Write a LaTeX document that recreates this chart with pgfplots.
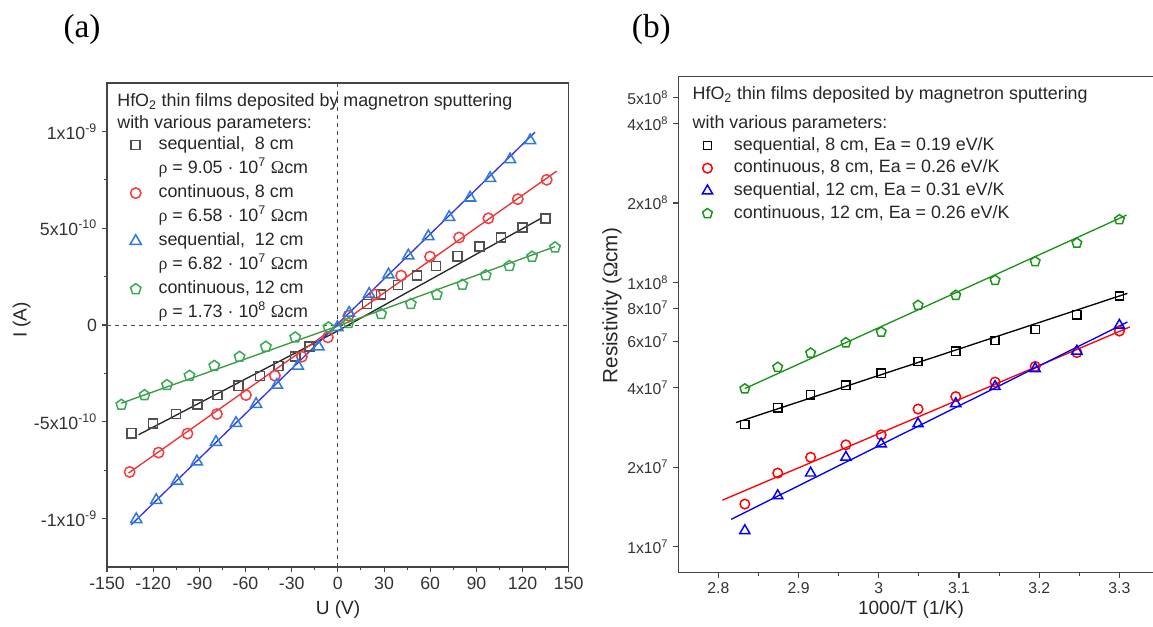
\documentclass[border=0pt]{standalone}
\usepackage{pgfplots}
\pgfplotsset{compat=1.18}
\usepackage{fontspec}
\setmainfont{Liberation Sans}
\newfontfamily\serif{Liberation Serif}
\definecolor{lgray}{HTML}{505050}
\definecolor{lred}{HTML}{F04040}
\definecolor{lblue}{HTML}{2E7BE0}
\definecolor{lgreen}{HTML}{3CAA5A}
\definecolor{linered}{HTML}{F03030}
\definecolor{lineblue}{HTML}{3333EE}
\definecolor{linegreen}{HTML}{3A9A3A}
\definecolor{rgreen}{HTML}{1A931A}
\definecolor{axisgray}{HTML}{454545}
\newcommand\tkL{\fontsize{13.3}{15}\selectfont}
\newcommand\tkR{\fontsize{11.8}{13}\selectfont}
\newcommand\legf{\fontsize{13.4}{15}\selectfont}
\newcommand\labf{\fontsize{14.3}{16}\selectfont}
\newcommand\rhotxt[2]{{\serif ρ} = #1 · 10\textsuperscript{#2} {\serif Ω}cm}
\begin{document}
\begin{tikzpicture}
\useasboundingbox (0,0) rectangle (864.75pt,470.25pt);
% ---------------- (a) ----------------
\begin{axis}[
  at={(80.25pt,45pt)}, anchor=south west, scale only axis,
  width=346.3pt, height=363pt,
  xmin=-150, xmax=150, ymin=-1.25, ymax=1.25,
  xtick={-150,-120,-90,-60,-30,0,30,60,90,120,150},
  xticklabels={-150,-120,-90,-60,-30,0,30,60,90,120,150},
  ytick={-1,-0.5,0,0.5,1},
  yticklabels={-1x10\textsuperscript{-9},-5x10\textsuperscript{-10},0,5x10\textsuperscript{-10},1x10\textsuperscript{-9}},
  minor x tick num=1, minor y tick num=1,
  xtick pos=bottom, ytick pos=left, tick align=outside,
  major tick length=4pt, minor tick length=2.5pt,
  axis line style={axisgray, line width=0.8pt},
  tick style={axisgray, line width=0.8pt},
  ticklabel style={font=\tkL, text=black!80},
  legend style={at={(0.037,0.897)}, anchor=north west, draw=none, fill=none,
    font=\legf, text=black!85, row sep=0pt, inner sep=0pt,
    nodes={text height=10.6pt, text depth=3.4pt, inner sep=2pt},
    /tikz/every odd column/.append style={column sep=11pt}},
  legend cell align=left,
]
\addplot[forget plot, dashed, black!70, line width=0.7pt] coordinates {(-150,0) (150,0)};
\addplot[forget plot, dashed, black!70, line width=0.7pt] coordinates {(0,-1.25) (0,1.25)};
% fit lines
\addplot[forget plot, black!85, line width=1pt] coordinates {(-129.5,-0.567) (0,-0.03) (132.5,0.553)};
\addplot[forget plot, linered, line width=1pt] coordinates {(-136,-0.765) (142.2,0.795)};
\addplot[forget plot, lineblue, line width=1pt] coordinates {(-134.4,-1.033) (128.1,0.996)};
\addplot[forget plot, linegreen, line width=1pt] coordinates {(-140.7,-0.404) (0,-0.005) (141.1,0.405)};
% data
\addplot[only marks, mark=square, mark size=3.4pt, lgray, line width=1.15pt] coordinates {
(-134.2,-0.559) (-120.1,-0.509) (-105.2,-0.460) (-91.2,-0.411) (-78.2,-0.361)
(-64.5,-0.314) (-50.6,-0.264) (-38.6,-0.211) (-27.7,-0.162) (-18.4,-0.112)
(18.8,0.109) (28.1,0.157) (39.0,0.207) (51.3,0.255) (63.8,0.305) (77.7,0.355)
(91.9,0.405) (106.0,0.453) (119.9,0.503) (134.8,0.551)};
\addlegendentry{sequential,~ 8 cm}
\addlegendimage{empty legend}\addlegendentry{\rhotxt{9.05}{7}}
\addplot[only marks, mark=o, mark size=3.9pt, lred, line width=1.15pt] coordinates {
(-135.3,-0.759) (-116.5,-0.659) (-97.7,-0.561) (-78.6,-0.460) (-59.7,-0.362)
(-40.9,-0.262) (-23.4,-0.164) (-6.5,-0.064) (6.9,0.048) (24.2,0.157) (41.1,0.255)
(59.9,0.353) (78.8,0.452) (97.8,0.551) (116.9,0.650) (135.7,0.750)};
\addlegendentry{continuous, 8 cm}
\addlegendimage{empty legend}\addlegendentry{\rhotxt{6.58}{7}}
\addplot[only marks, mark=triangle, mark size=4.8pt, lblue, line width=1.15pt] coordinates {
(-131.0,-1.004) (-118.0,-0.905) (-104.5,-0.806) (-91.6,-0.706) (-79.2,-0.605)
(-66.2,-0.507) (-53.1,-0.409) (-39.6,-0.310) (-26.0,-0.211) (-12.6,-0.112)
(-0.3,-0.012) (7.3,0.062) (20.3,0.160) (32.9,0.260) (45.8,0.358) (58.8,0.458)
(72.3,0.557) (85.9,0.657) (98.9,0.758) (111.9,0.855) (124.9,0.953)};
\addlegendentry{sequential,~ 12 cm}
\addlegendimage{empty legend}\addlegendentry{\rhotxt{6.82}{7}}
\addplot[only marks, mark=pentagon, mark size=4.1pt, lgreen, line width=1.15pt] coordinates {
(-140.7,-0.412) (-125.6,-0.362) (-111.0,-0.310) (-96.4,-0.262) (-80.3,-0.211)
(-63.9,-0.164) (-46.8,-0.112) (-27.7,-0.064) (-6.1,-0.012) (6.9,0.010)
(28.1,0.057) (47.4,0.109) (64.3,0.157) (80.9,0.208) (96.1,0.257) (111.4,0.305)
(126.2,0.353) (141.1,0.401)};
\addlegendentry{continuous, 12 cm}
\addlegendimage{empty legend}\addlegendentry{\rhotxt{1.73}{8}}
\end{axis}
% ---------------- (b) ----------------
\begin{axis}[
  at={(508.7pt,41.0pt)}, anchor=south west, scale only axis,
  width=357.9pt, height=371.5pt,
  xmin=2.75, xmax=3.345, ymode=log, ymin=8e6, ymax=6e8,
  xtick={2.8,2.9,3.0,3.1,3.2,3.3}, xticklabels={2.8,2.9,3,3.1,3.2,3.3},
  ytick={1e7,2e7,4e7,6e7,8e7,1e8,2e8,4e8,5e8},
  yticklabels={1x10\textsuperscript{7},2x10\textsuperscript{7},4x10\textsuperscript{7},6x10\textsuperscript{7},8x10\textsuperscript{7},1x10\textsuperscript{8},2x10\textsuperscript{8},4x10\textsuperscript{8},5x10\textsuperscript{8}},
  minor x tick num=1, minor ytick={},
  xtick pos=bottom, ytick pos=left, tick align=outside,
  major tick length=4pt, minor tick length=2.5pt,
  axis line style={axisgray, line width=0.8pt},
  tick style={axisgray, line width=0.8pt},
  ticklabel style={font=\tkR, text=black!80},
  legend style={at={(0.05,0.885)}, anchor=north west, draw=none, fill=none,
    font=\legf, text=black!85, row sep=0pt, inner sep=0pt,
    nodes={text height=10pt, text depth=3pt, inner sep=2pt},
    /tikz/every odd column/.append style={column sep=14pt}},
  legend cell align=left,
]
\addplot[forget plot, black, line width=1pt] coordinates {(2.822,2.95e7) (3.31,9.1e7)};
\addplot[forget plot, red, line width=1pt] coordinates {(2.805,1.50e7) (3.313,6.79e7)};
\addplot[forget plot, blue, line width=1pt] coordinates {(2.816,1.27e7) (3.31,7.09e7)};
\addplot[forget plot, rgreen, line width=1pt] coordinates {(2.833,3.97e7) (3.309,1.80e8)};
\addplot[only marks, mark=square, mark size=3.1pt, black, line width=1.1pt] coordinates {
(2.833,2.90e7) (2.874,3.36e7) (2.915,3.76e7) (2.959,4.09e7) (3.003,4.54e7) (3.049,5.03e7)
(3.096,5.49e7) (3.145,6.04e7) (3.195,6.64e7) (3.247,7.55e7) (3.300,8.9e7)};
\addlegendentry{sequential, 8 cm, Ea = 0.19 eV/K}
\addplot[only marks, mark=o, mark size=3.6pt, red, line width=1.1pt] coordinates {
(2.833,1.45e7) (2.874,1.90e7) (2.915,2.18e7) (2.959,2.43e7) (3.003,2.65e7) (3.049,3.32e7)
(3.096,3.70e7) (3.145,4.20e7) (3.195,4.81e7) (3.247,5.43e7) (3.300,6.55e7)};
\addlegendentry{continuous, 8 cm, Ea = 0.26 eV/K}
\addplot[only marks, mark=triangle, mark size=4.4pt, blue, line width=1.1pt] coordinates {
(2.833,1.15e7) (2.874,1.56e7) (2.915,1.90e7) (2.959,2.18e7) (3.003,2.45e7) (3.049,2.92e7)
(3.096,3.48e7) (3.145,4.04e7) (3.195,4.72e7) (3.247,5.50e7) (3.300,6.89e7)};
\addlegendentry{sequential, 12 cm, Ea = 0.31 eV/K}
\addplot[only marks, mark=pentagon, mark size=3.8pt, rgreen, line width=1.1pt] coordinates {
(2.833,3.96e7) (2.874,4.78e7) (2.915,5.41e7) (2.959,5.92e7) (3.003,6.50e7) (3.049,8.20e7)
(3.096,8.95e7) (3.145,1.02e8) (3.195,1.20e8) (3.247,1.41e8) (3.300,1.73e8)};
\addlegendentry{continuous, 12 cm, Ea = 0.26 eV/K}
\end{axis}
% ---------------- texts ----------------
\node[font=\serif\fontsize{25}{28}\selectfont] at (61.5pt,448.5pt) {(a)};
\node[font=\serif\fontsize{25}{28}\selectfont] at (488.5pt,448.5pt) {(b)};
\node[font=\labf, rotate=90, text=black!85] at (16.3pt,230.25pt) {I (A)};
\node[font=\labf, text=black!85] at (253.5pt,12.75pt) {U (V)};
\node[font=\fontsize{15.5}{17}\selectfont, rotate=90, text=black!85] at (459pt,241pt) {Resistivity ({\serif Ω}cm)};
\node[font=\labf, text=black!85] at (683.25pt,12.75pt) {1000/T (1/K)};
\node[font=\legf, anchor=base west, text=black!85] at (84.5pt,390.5pt) {HfO\textsubscript{2} thin films deposited by magnetron sputtering};
\node[font=\legf, anchor=base west, text=black!85] at (84.5pt,373.5pt) {with various parameters:};
\node[font=\legf, anchor=base west, text=black!85] at (516pt,395.5pt) {HfO\textsubscript{2} thin films deposited by magnetron sputtering};
\node[font=\legf, anchor=base west, text=black!85] at (516pt,374pt) {with various parameters:};
\end{tikzpicture}
\end{document}
